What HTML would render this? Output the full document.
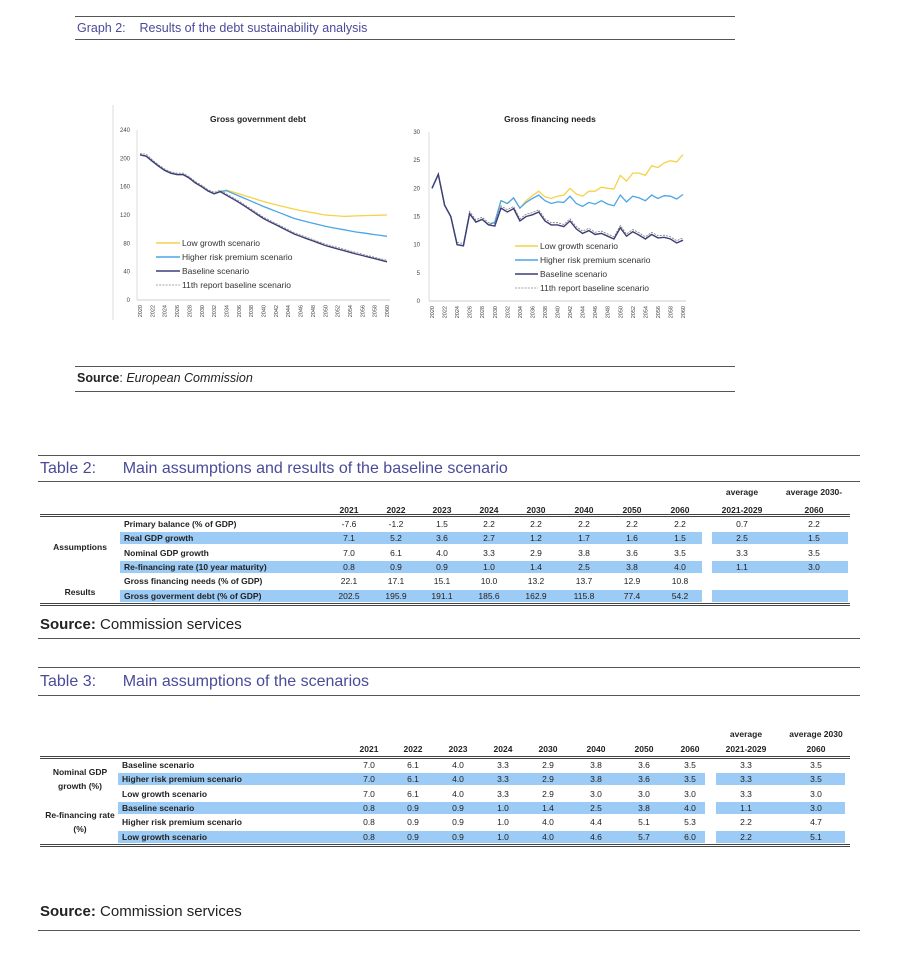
<!DOCTYPE html>
<html><head><meta charset="utf-8"><style>
body{margin:0;background:#fff;width:900px;height:962px;position:relative;overflow:hidden;font-family:"Liberation Sans",sans-serif;}
.a{position:absolute;white-space:nowrap}
.ln{position:absolute;height:0;border-top:1.3px solid #555}
.t{color:#4a4a9a}
.tb{font-family:"Liberation Sans Narrow","Liberation Sans",sans-serif;font-size:8.5px;color:#222}
.blue{position:absolute;background:#9ccbf5;height:12px}
.c{position:absolute;transform:translateX(-50%);white-space:nowrap}
</style></head><body>
<div class="ln" style="left:75px;width:660px;top:16px"></div>
<div class="a t" style="left:77px;top:21px;font-size:12.5px">Graph 2:&nbsp;&nbsp;&nbsp;&nbsp;Results of the debt sustainability analysis</div>
<div class="ln" style="left:75px;width:660px;top:39px"></div>
<svg id="ch" width="900" height="340" style="position:absolute;left:0;top:0"></svg>
<div class="ln" style="left:75px;width:660px;top:366px"></div>
<div class="a" style="left:77px;top:371px;font-size:12.5px;color:#222"><b>Source</b>: <i>European Commission</i></div>
<div class="ln" style="left:75px;width:660px;top:391px"></div>

<div class="ln" style="left:38px;width:822px;top:455px"></div>
<div class="a t" style="left:40px;top:460px;font-size:16px">Table 2:&nbsp;&nbsp;&nbsp;&nbsp;&nbsp;&nbsp;Main assumptions and results of the baseline scenario</div>
<div class="ln" style="left:38px;width:822px;top:481px"></div>
<div id="t2"></div>
<div class="a" style="left:40px;top:616px;font-size:15px;color:#222"><b>Source:</b> Commission services</div>
<div class="ln" style="left:38px;width:822px;top:638px"></div>

<div class="ln" style="left:38px;width:822px;top:667px"></div>
<div class="a t" style="left:40px;top:673px;font-size:16px">Table 3:&nbsp;&nbsp;&nbsp;&nbsp;&nbsp;&nbsp;Main assumptions of the scenarios</div>
<div class="ln" style="left:38px;width:822px;top:695px"></div>
<div id="t3"></div>
<div class="a" style="left:40px;top:903px;font-size:15px;color:#222"><b>Source:</b> Commission services</div>
<div class="ln" style="left:38px;width:822px;top:930px"></div>
<script>
var s='';
function P(pts,col,w,dash){return '<polyline fill="none" stroke="'+col+'" stroke-width="'+w+'" '+(dash?'stroke-dasharray="2,1.2"':'')+' points="'+pts.join(' ')+'"/>';}
// left chart
function lx(y){return 140+(y-2020)*247/40} function ly(v){return 300-v*170/240}
s+='<line x1="113" y1="105" x2="113" y2="320" stroke="#ddd"/>';
s+='<text x="258" y="122" font-size="8.5" font-weight="bold" text-anchor="middle" fill="#222">Gross government debt</text>';
for(var v=0;v<=240;v+=40)s+='<text x="130" y="'+(ly(v)+2)+'" font-size="6" text-anchor="end" fill="#444">'+v+'</text>';
s+='<line x1="137" y1="'+ly(0)+'" x2="390" y2="'+ly(0)+'" stroke="#ccc"/><line x1="137" y1="130" x2="137" y2="300" stroke="#ddd"/>';
for(var y=2020;y<=2060;y+=2)s+='<text transform="translate('+(lx(y)+2)+',305) rotate(-90)" font-size="5.5" text-anchor="end" fill="#444">'+y+'</text>';
var base={2020:205,2021:203,2022:196,2023:189,2024:183,2025:179,2026:177,2027:177,2028:172,2029:165,2030:160,2031:154,2032:150,2033:153,2040:115,2050:77,2060:54};
function interp(o){var ks=Object.keys(o).map(Number).sort(function(a,b){return a-b}),r={};for(var i=0;i<ks.length-1;i++){for(var y=ks[i];y<ks[i+1];y++){r[y]=o[ks[i]]+(o[ks[i+1]]-o[ks[i]])*(y-ks[i])/(ks[i+1]-ks[i]);}}r[ks[ks.length-1]]=o[ks[ks.length-1]];return r;}
var b=interp({2020:205,2021:203,2022:196,2023:189,2024:183,2025:179,2026:177,2027:177,2028:172,2029:165,2030:160,2031:154,2032:150,2033:153,2036:138,2040:115,2045:93,2050:77,2055:65,2060:54});
var hi=interp({2033:158,2036:147,2040:132,2045:115,2050:104,2055:96,2060:90});
var lo=interp({2033:158,2036:150,2040:139,2045:128,2050:120,2053:118,2056:119,2060:120});
function pts(o,fx,fy,a,z,off){var r=[];for(var y=a;y<=z;y++)r.push(fx(y).toFixed(1)+','+fy(o[y]+(off||0)).toFixed(1));return r;}
var bp=pts(b,lx,ly,2020,2033);
s+=P(bp.concat(pts(lo,lx,ly,2034,2060)),'#f5d24a',1.3);
s+=P(bp.concat(pts(hi,lx,ly,2034,2060)),'#4aa6e8',1.3);
var d=[];for(var y=2020;y<=2060;y++)d.push(lx(y).toFixed(1)+','+ly(b[y]+(y==2021?3:2)).toFixed(1));
s+=P(d,'#888',0.8,1);
s+=P(pts(b,lx,ly,2020,2060),'#3d3d78',1.4);
var L=[['Low growth scenario','#f5d24a',0],['Higher risk premium scenario','#4aa6e8',0],['Baseline scenario','#3d3d78',0],['11th report baseline scenario','#888',1]];
L.forEach(function(e,i){var yy=243+i*14;s+='<line x1="156" x2="180" y1="'+yy+'" y2="'+yy+'" stroke="'+e[1]+'" stroke-width="'+(e[2]?0.8:1.4)+'" '+(e[2]?'stroke-dasharray="2,1.2"':'')+'/><text x="182" y="'+(yy+3)+'" font-size="8.5" fill="#333">'+e[0]+'</text>';});
// right chart
function rx(y){return 432+(y-2020)*251/40} function ry(v){return 301-v*169/30}
s+='<text x="550" y="122" font-size="8.5" font-weight="bold" text-anchor="middle" fill="#222">Gross financing needs</text>';
for(var v=0;v<=30;v+=5)s+='<text x="420" y="'+(ry(v)+2)+'" font-size="6" text-anchor="end" fill="#444">'+v+'</text>';
s+='<line x1="429" y1="'+ry(0)+'" x2="686" y2="'+ry(0)+'" stroke="#ccc"/><line x1="429" y1="132" x2="429" y2="301" stroke="#ddd"/>';
for(var y=2020;y<=2060;y+=2)s+='<text transform="translate('+(rx(y)+2)+',306) rotate(-90)" font-size="5.5" text-anchor="end" fill="#444">'+y+'</text>';
var B=[20,22.5,17,15,10,9.8,15.5,14,14.5,13.5,13.3,16.5,15.8,16.4,14.2,15,15.3,15.8,14.2,13.5,13.5,13.2,14.2,12.8,12,12.5,11.8,12,11.5,11,13,11.5,12.3,11.7,11,11.8,11.2,11.3,11,10.3,10.8];
var H=B.slice(0,10).concat([14,17.8,17.3,18.3,16.5,17.5,18.2,18.8,17.8,17.3,17.6,17.5,18.6,17.3,16.8,17.5,17.2,17.8,17.2,16.9,18.8,17.6,18.6,18.3,17.8,18.8,18.2,18.7,18.6,18.1,18.9]);
var Lo=H.slice(0,14).concat([16.5,17.8,18.7,19.5,18.5,18.2,18.6,18.8,20,19,18.6,19.5,19.5,20.2,20,19.9,22.3,21.3,22.7,22.7,22.3,24,23.7,24.5,24.9,24.7,26]).slice(0,41);
function ap(a,off){return a.map(function(v,i){return rx(2020+i).toFixed(1)+','+ry(v+(i>3?off:0)).toFixed(1)});}
s+=P(ap(Lo,0),'#f5d24a',1.3);s+=P(ap(H,0),'#4aa6e8',1.3);s+=P(ap(B,0.4),'#777',0.8,1);s+=P(ap(B,0),'#3d3d78',1.4);
L.forEach(function(e,i){var yy=246+i*14;s+='<line x1="515" x2="538" y1="'+yy+'" y2="'+yy+'" stroke="'+e[1]+'" stroke-width="'+(e[2]?0.8:1.4)+'" '+(e[2]?'stroke-dasharray="2,1.2"':'')+'/><text x="540" y="'+(yy+3)+'" font-size="8.5" fill="#333">'+e[0]+'</text>';});
document.getElementById('ch').innerHTML=s;

function table(id,cols,hdrY,yrY,line1,rows,rowY,dy,blueX,labX,groups,line2){
 var h='';var yrs=['2021','2022','2023','2024','2030','2040','2050','2060'];
 yrs.forEach(function(y,i){h+='<div class="c tb" style="left:'+cols[i]+'px;top:'+yrY+'px;font-weight:bold">'+y+'</div>';});
 h+='<div class="c tb" style="left:'+cols[8]+'px;top:'+hdrY+'px;font-weight:bold">average</div><div class="c tb" style="left:'+cols[8]+'px;top:'+yrY+'px;font-weight:bold">2021-2029</div>';
 h+='<div class="c tb" style="left:'+cols[9]+'px;top:'+hdrY+'px;font-weight:bold">'+(id=='t2'?'average 2030-':'average 2030')+'</div><div class="c tb" style="left:'+cols[9]+'px;top:'+yrY+'px;font-weight:bold">2060</div>';
 h+='<div class="ln" style="left:40px;width:810px;top:'+line1+'px;border-top:2.5px double #444;border-width:3px"></div>';
 rows.forEach(function(r,i){var y=rowY+i*dy;
  if(i%2==1||(id=='t3'&&i==3)||(id=='t3'&&i==5)){}
  if(r.blue){h+='<div class="blue" style="left:'+blueX[0]+'px;width:'+(blueX[1]-blueX[0])+'px;top:'+(y-1)+'px"></div><div class="blue" style="left:'+blueX[2]+'px;width:'+(blueX[3]-blueX[2])+'px;top:'+(y-1)+'px"></div>';}
  h+='<div class="a tb" style="left:'+labX+'px;top:'+y+'px;font-weight:bold">'+r.l+'</div>';
  r.v.forEach(function(v,j){h+='<div class="c tb" style="left:'+cols[j]+'px;top:'+y+'px">'+v+'</div>';});
 });
 groups.forEach(function(g){h+='<div class="c tb" style="left:80px;top:'+g[1]+'px;font-weight:bold;text-align:center;line-height:14px">'+g[0]+'</div>';});
 h+='<div class="ln" style="left:40px;width:810px;top:'+line2+'px;border-top:3px double #444"></div>';
 document.getElementById(id).innerHTML=h;}
table('t2',[349,396,442,489,536,584,632,680,742,814],487,505,514,[
{l:'Primary balance (% of GDP)',v:['-7.6','-1.2','1.5','2.2','2.2','2.2','2.2','2.2','0.7','2.2']},
{l:'Real GDP growth',v:['7.1','5.2','3.6','2.7','1.2','1.7','1.6','1.5','2.5','1.5'],blue:1},
{l:'Nominal GDP growth',v:['7.0','6.1','4.0','3.3','2.9','3.8','3.6','3.5','3.3','3.5']},
{l:'Re-financing rate (10 year maturity)',v:['0.8','0.9','0.9','1.0','1.4','2.5','3.8','4.0','1.1','3.0'],blue:1},
{l:'Gross financing needs (% of GDP)',v:['22.1','17.1','15.1','10.0','13.2','13.7','12.9','10.8']},
{l:'Gross goverment debt (% of GDP)',v:['202.5','195.9','191.1','185.6','162.9','115.8','77.4','54.2'],blue:1}],
519,14.3,[120,702,712,848],124,[['Assumptions',540],['Results',585]],603);
table('t3',[369,413,458,503,548,596,644,690,746,816],729,744,756,[
{l:'Baseline scenario',v:['7.0','6.1','4.0','3.3','2.9','3.8','3.6','3.5','3.3','3.5']},
{l:'Higher risk premium scenario',v:['7.0','6.1','4.0','3.3','2.9','3.8','3.6','3.5','3.3','3.5'],blue:1},
{l:'Low growth scenario',v:['7.0','6.1','4.0','3.3','2.9','3.0','3.0','3.0','3.3','3.0']},
{l:'Baseline scenario',v:['0.8','0.9','0.9','1.0','1.4','2.5','3.8','4.0','1.1','3.0'],blue:1},
{l:'Higher risk premium scenario',v:['0.8','0.9','0.9','1.0','4.0','4.4','5.1','5.3','2.2','4.7']},
{l:'Low growth scenario',v:['0.8','0.9','0.9','1.0','4.0','4.6','5.7','6.0','2.2','5.1'],blue:1}],
760,14.3,[118,705,716,845],122,[['Nominal GDP<br>growth (%)',765],['Re-financing rate<br>(%)',808]],844);
</script>
</body></html>
